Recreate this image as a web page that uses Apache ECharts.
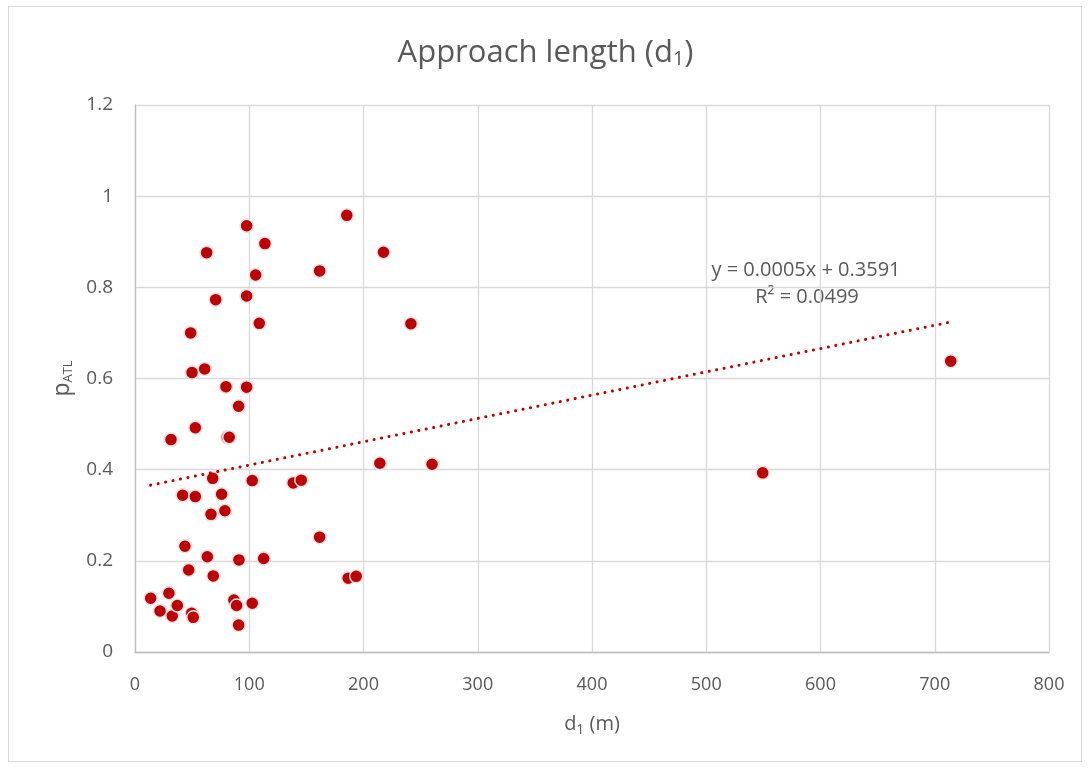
<!DOCTYPE html>
<html>
<head>
<meta charset="utf-8">
<script src="https://cdn.jsdelivr.net/npm/echarts@6/dist/echarts.min.js"></script>
<style>
  html, body { margin: 0; padding: 0; background: #fff; }
  #frame { position: absolute; left: 8px; top: 6px; width: 1074px; height: 756px; border: 1px solid #D9D9D9; box-sizing: border-box; }
  #chart { position: absolute; left: 0; top: 0; width: 1091px; height: 769px; }
</style>
</head>
<body>
<div id="frame"></div>
<div id="chart"></div>
<script>
// Data
const d1Values = [13.7, 21.9, 29.7, 32.6, 37, 31.5, 41.7, 43.7, 47, 48.7, 49.9, 49.6, 51, 52.8, 52.8,
  61, 62.7, 63.3, 66.5, 68, 68.5, 70.6, 75.8, 78.7, 79.6, 80.8, 82.5, 86.6, 88.9, 91, 90.7, 90.7,
  97.7, 97.7, 97.7, 102.6, 102.6, 105.6, 108.8, 112.6, 113.7, 138.5, 145.5, 161.6, 161.6,
  185.4, 186.6, 193.6, 214.3, 217.5, 241.5, 260, 549.4, 714];
const pAtlValues = [0.118, 0.090, 0.129, 0.079, 0.102, 0.466, 0.344, 0.232, 0.180, 0.700, 0.613, 0.085, 0.076, 0.492, 0.341,
  0.621, 0.876, 0.209, 0.302, 0.381, 0.167, 0.773, 0.346, 0.310, 0.582, 0.471, 0.471, 0.114, 0.102, 0.202, 0.059, 0.539,
  0.935, 0.781, 0.581, 0.376, 0.107, 0.827, 0.721, 0.205, 0.896, 0.371, 0.377, 0.836, 0.252,
  0.958, 0.162, 0.166, 0.414, 0.877, 0.720, 0.412, 0.393, 0.638];
// Linear trendline shown in the chart: y = 0.0005x + 0.3591
const trendX = [13.7, 714];
const trendY = [0.366, 0.724];
const equationText = 'y = 0.0005x + 0.3591';
const r2Text = 'R² = 0.0499';
const xTicks = { min: 0, max: 800, interval: 100 };
const yTicks = { min: 0, max: 1.2, interval: 0.2 };

const points = d1Values.map((x, i) => [x, pAtlValues[i]]);
const trendPoints = trendX.map((x, i) => [x, trendY[i]]);

const chart = echarts.init(document.getElementById('chart'));
const txt = '#595959';
const font = "'Open Sans', 'Noto Sans', sans-serif";
chart.setOption({
  animation: false,
  backgroundColor: 'transparent',
  title: {
    text: '{m|Approach length (d}{s|1}{m|)}',
    left: 'center',
    top: 27,
    textStyle: {
      fontWeight: 'normal',
      rich: {
        m: { fontSize: 31, color: txt, fontFamily: font, fontWeight: 'normal', verticalAlign: 'bottom' },
        s: { fontSize: 20, color: txt, fontFamily: font, fontWeight: 'normal', padding: [17, 0, 0, 0], verticalAlign: 'bottom' }
      }
    }
  },
  grid: { left: 135, right: 42, top: 105, bottom: 117 },
  xAxis: {
    type: 'value',
    min: xTicks.min, max: xTicks.max, interval: xTicks.interval,
    name: '{m|d}{s|1}{m| (m)}',
    nameLocation: 'middle',
    nameGap: 60,
    nameTextStyle: {
      rich: {
        m: { fontSize: 20, color: txt, fontFamily: font },
        s: { fontSize: 14, color: txt, fontFamily: font, padding: [11, 0, 0, 0] }
      }
    },
    axisLine: { lineStyle: { color: '#BFBFBF', width: 1.3 } },
    axisTick: { show: false },
    axisLabel: { color: txt, fontSize: 18, fontFamily: font, margin: 24 },
    splitLine: { show: true, lineStyle: { color: '#D9D9D9', width: 1.3 } }
  },
  yAxis: {
    type: 'value',
    min: yTicks.min, max: yTicks.max, interval: yTicks.interval,
    name: '{m|p}{s|ATL}',
    nameLocation: 'middle',
    nameGap: 60,
    nameRotate: 90,
    nameTextStyle: {
      rich: {
        m: { fontSize: 23, color: txt, fontFamily: font },
        s: { fontSize: 13, color: txt, fontFamily: font, padding: [12, 0, 0, 0] }
      }
    },
    axisLine: { show: true, lineStyle: { color: '#BFBFBF', width: 1.3 } },
    axisTick: { show: false },
    axisLabel: { color: txt, fontSize: 19, fontFamily: font, margin: 22 },
    splitLine: { show: true, lineStyle: { color: '#D9D9D9', width: 1.3 } }
  },
  series: [
    {
      type: 'scatter',
      data: points,
      symbol: 'circle',
      symbolSize: 13,
      itemStyle: { color: '#C00000', opacity: 1, borderColor: '#E3E3E3', borderWidth: 1.5 },
      z: 2
    },
    {
      type: 'line',
      data: trendPoints,
      symbol: 'none',
      silent: true,
      lineStyle: { color: '#C00000', width: 3, type: [0.1, 7.5], cap: 'round' },
      z: 3
    }
  ],
  graphic: [
    { type: 'text', x: 806, y: 270, style: { text: equationText, fill: txt, fontSize: 20, fontFamily: font, align: 'center', verticalAlign: 'middle', textAlign: 'center', textVerticalAlign: 'middle' } },
    { type: 'text', x: 807, y: 297, style: { text: r2Text, fill: txt, fontSize: 20, fontFamily: font, align: 'center', verticalAlign: 'middle', textAlign: 'center', textVerticalAlign: 'middle' } }
  ]
});
</script>
</body>
</html>
